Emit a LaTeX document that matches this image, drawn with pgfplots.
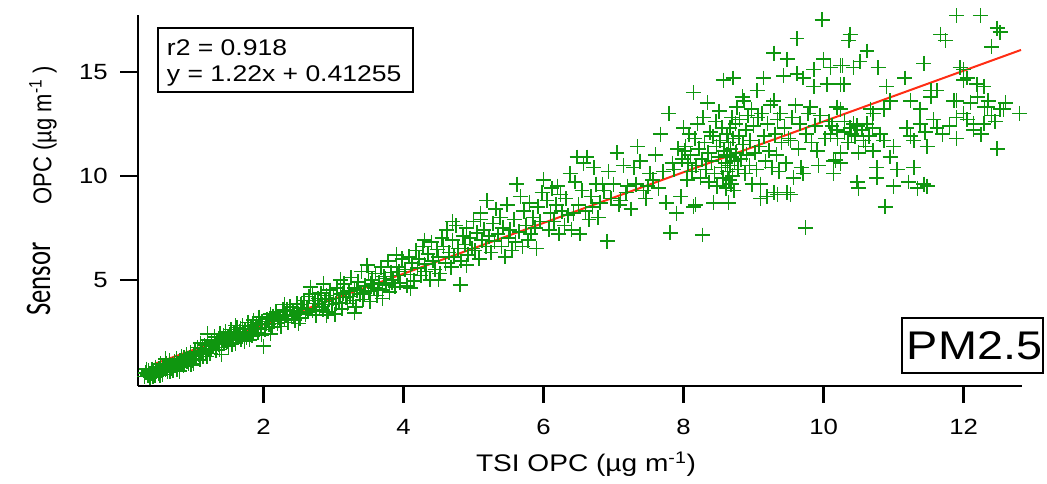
\documentclass[border=0pt]{standalone}
\usepackage{fontspec}
\setmainfont{Liberation Sans}[FakeStretch=1.17]
\newfontfamily\plainarial{Liberation Sans}
\newfontfamily\carlito{Carlito}
\usepackage{graphicx}
\usepackage{pgfplots}
\pgfplotsset{compat=1.18}
\usepackage{pgfplotstable}
\definecolor{mkgreen}{RGB}{15,150,15}
\definecolor{fitred}{RGB}{255,45,20}
\pgfplotstableread{
x y
0.30 0.35
0.32 0.52
0.35 0.41
0.36 0.62
0.38 0.30
0.40 0.48
0.41 0.70
0.43 0.55
0.45 0.38
0.46 0.80
0.48 0.62
0.50 0.50
0.51 0.75
0.53 0.95
0.55 0.62
0.56 0.45
0.58 0.80
0.60 0.70
0.61 0.98
0.63 0.58
0.65 0.85
0.66 1.10
0.68 0.72
0.70 0.92
0.71 0.65
0.73 1.05
0.75 0.85
0.76 1.20
0.78 0.95
0.80 0.78
0.81 1.10
0.83 1.30
0.85 1.00
0.86 0.85
0.88 1.18
0.90 1.40
0.91 1.05
0.93 0.95
0.95 1.25
0.96 1.50
0.98 1.12
1.00 1.35
1.00 0.98
0.33 0.70
0.37 0.45
0.42 0.35
0.47 0.60
0.52 0.40
0.57 0.68
0.62 0.80
0.67 0.60
0.72 0.88
0.77 0.70
0.82 0.95
0.87 1.25
0.92 1.15
0.97 0.90
0.60 1.20
0.80 0.60
1.02 1.55
1.04 1.20
1.06 1.75
1.08 1.40
1.10 1.95
1.12 1.60
1.14 1.30
1.16 1.85
1.18 1.55
1.20 2.10
1.22 1.70
1.24 1.45
1.26 2.00
1.28 1.80
1.30 2.25
1.32 1.60
1.34 2.05
1.36 1.90
1.38 2.40
1.40 1.75
1.42 2.15
1.44 1.95
1.46 2.50
1.48 2.05
1.50 1.80
1.52 2.30
1.54 2.60
1.56 2.10
1.58 2.40
1.60 1.95
1.62 2.70
1.64 2.25
1.66 2.50
1.68 2.10
1.70 2.80
1.72 2.35
1.74 2.60
1.76 2.20
1.78 2.95
1.80 2.50
1.82 2.75
1.84 2.30
1.86 3.05
1.88 2.60
1.90 2.85
1.92 2.45
1.94 3.20
1.96 2.70
1.98 3.00
2.00 1.80
1.03 1.45
1.09 1.15
1.13 1.70
1.19 1.30
1.25 1.65
1.31 1.95
1.37 1.65
1.43 2.30
1.49 2.20
1.55 1.90
1.61 2.20
1.67 2.65
1.73 2.05
1.79 2.40
1.85 2.80
1.91 2.65
1.97 2.35
1.20 2.40
1.40 1.40
1.60 2.80
1.80 2.10
2.02 2.60
2.05 3.10
2.08 2.85
2.10 3.35
2.12 2.70
2.15 3.00
2.18 3.45
2.20 2.90
2.22 3.20
2.25 2.75
2.28 3.55
2.30 3.10
2.32 3.30
2.35 2.95
2.38 3.70
2.40 3.25
2.42 3.50
2.45 3.05
2.48 3.85
2.50 3.40
2.52 3.15
2.55 3.65
2.58 4.00
2.60 3.35
2.62 3.60
2.65 4.20
2.67 4.64
2.70 3.50
2.72 3.85
2.75 3.30
2.78 4.10
2.80 3.70
2.82 4.35
2.85 3.55
2.86 4.80
2.88 3.95
2.90 4.25
2.92 3.45
2.95 4.50
2.98 3.80
3.00 4.10
3.02 3.35
3.05 4.60
3.08 3.90
3.10 4.30
3.12 3.60
3.15 4.80
3.18 4.15
3.20 3.85
3.22 4.45
3.25 5.10
3.28 4.00
3.30 4.60
3.32 3.70
3.35 4.90
3.38 4.30
3.40 5.40
3.42 4.05
3.45 4.70
3.48 5.70
3.50 4.45
3.52 3.95
3.55 5.00
3.58 4.60
3.60 5.30
3.62 4.25
3.65 4.85
3.68 5.60
3.70 4.50
3.72 5.15
3.75 4.75
3.78 5.90
3.80 4.40
3.82 5.35
3.85 5.00
3.88 4.65
3.90 5.60
3.92 5.20
3.95 4.85
3.98 6.00
2.04 2.90
2.14 3.25
2.24 3.05
2.34 3.55
2.44 3.30
2.54 3.80
2.64 3.45
2.74 4.00
2.84 3.80
2.94 4.05
3.04 3.85
3.14 4.35
3.24 4.20
3.34 4.50
3.44 4.35
3.54 4.80
3.64 4.55
3.74 5.05
3.84 4.85
3.94 5.40
2.10 2.40
2.30 3.80
2.50 2.90
2.70 4.30
2.90 3.30
3.10 5.00
3.30 3.40
3.50 5.40
3.70 4.10
3.90 6.20
4.10 4.60
4.30 6.90
4.50 5.00
4.70 7.80
4.90 5.70
5.10 7.90
4.02 5.50
4.05 4.70
4.08 6.10
4.10 5.25
4.12 5.80
4.15 4.95
4.18 6.40
4.20 5.55
4.22 6.00
4.25 5.20
4.28 6.60
4.30 5.75
4.32 5.40
4.35 6.25
4.38 5.00
4.40 6.80
4.42 5.90
4.45 5.50
4.48 6.45
4.50 6.10
4.52 5.30
4.55 7.00
4.57 6.60
4.60 5.80
4.62 7.40
4.65 6.30
4.68 5.60
4.70 6.90
4.72 6.10
4.75 7.60
4.78 6.50
4.81 4.75
4.82 5.90
4.85 7.10
4.88 6.70
4.90 7.50
4.92 6.20
4.95 7.00
4.98 6.50
5.00 7.80
5.02 6.40
5.05 7.25
5.08 6.00
5.10 8.20
5.12 6.90
5.15 7.40
5.18 6.60
5.19 8.80
5.22 7.10
5.25 6.30
5.28 7.70
5.30 6.85
5.32 8.40
5.35 7.20
5.38 8.00
5.40 6.60
5.42 7.50
5.45 6.10
5.48 8.60
5.50 7.00
5.52 7.40
5.55 6.40
5.58 7.90
5.60 6.80
5.62 9.60
5.65 7.30
5.67 9.00
5.70 6.60
5.72 8.30
5.75 7.60
5.78 6.90
5.80 8.70
5.82 7.20
5.85 8.00
5.88 7.50
5.90 6.50
5.92 8.50
5.95 7.80
5.98 9.20
6.00 9.80
6.05 8.80
6.08 7.40
6.10 8.20
6.12 9.40
6.15 7.80
6.18 8.60
6.20 9.50
6.22 7.20
6.24 9.10
6.26 8.30
6.30 7.60
6.32 8.90
6.35 8.10
6.38 10.10
6.40 7.40
6.43 8.20
6.45 9.70
6.48 10.90
6.50 8.60
6.52 7.20
6.55 9.30
6.57 10.60
6.60 8.30
6.62 10.90
6.65 7.90
6.68 9.00
6.70 8.50
6.72 10.40
6.75 9.60
6.78 8.00
6.81 8.70
6.84 9.60
6.86 9.30
6.91 6.85
6.93 10.20
6.96 8.90
7.00 9.60
7.05 11.10
7.08 8.60
7.10 8.80
7.14 10.50
7.18 9.20
7.20 9.50
7.25 8.40
7.29 10.40
7.32 9.60
7.34 11.40
7.38 10.70
7.43 9.30
7.46 8.90
7.49 9.50
7.52 10.10
7.56 9.80
7.60 11.00
7.64 9.40
7.67 12.00
7.71 10.20
7.75 8.70
7.79 13.00
7.81 7.25
7.84 10.60
7.86 10.30
7.90 8.20
7.92 11.30
7.96 9.00
7.98 10.80
8.00 12.30
8.02 11.20
8.03 11.40
8.05 9.80
8.06 10.60
8.08 12.00
8.10 11.00
8.12 10.20
8.14 14.00
8.14 8.50
8.16 11.80
8.17 8.60
8.18 10.50
8.20 12.50
8.22 11.30
8.24 9.90
8.26 10.80
8.27 7.15
8.28 12.80
8.30 11.60
8.32 10.30
8.34 13.50
8.35 11.10
8.36 9.70
8.38 12.10
8.40 10.70
8.42 11.90
8.43 8.70
8.44 10.10
8.46 12.60
8.47 11.40
8.48 9.50
8.50 10.90
8.51 13.10
8.52 11.70
8.54 10.40
8.55 12.30
8.56 9.90
8.57 14.60
8.58 11.20
8.60 10.60
8.61 9.40
8.62 12.00
8.62 11.00
8.63 10.20
8.64 8.70
8.64 11.60
8.65 9.80
8.66 12.30
8.66 10.50
8.67 11.30
8.68 9.60
8.68 10.90
8.69 12.80
8.70 10.00
8.71 14.70
8.71 11.80
8.72 9.30
8.73 10.70
8.74 12.50
8.75 11.10
8.76 13.30
8.78 10.30
8.79 11.90
8.80 12.70
8.82 10.80
8.84 13.80
8.85 11.50
8.86 13.60
8.88 10.10
8.89 12.20
8.90 11.00
8.92 12.90
8.94 10.50
8.95 11.70
8.97 13.20
8.98 9.60
9.00 12.40
9.02 11.10
9.04 10.30
9.05 14.10
9.06 12.80
9.08 11.40
9.10 9.60
9.10 8.90
9.12 13.00
9.14 14.70
9.15 11.90
9.17 10.70
9.19 9.00
9.20 12.50
9.22 11.20
9.24 13.40
9.26 10.40
9.29 13.60
9.29 15.90
9.29 9.20
9.31 12.00
9.33 11.00
9.34 12.70
9.34 9.10
9.36 10.20
9.38 13.00
9.40 11.60
9.43 14.80
9.44 12.30
9.46 10.60
9.48 15.60
9.48 9.20
9.50 11.80
9.53 11.70
9.53 9.10
9.55 12.80
9.57 9.90
9.60 13.40
9.62 14.90
9.62 16.60
9.64 11.30
9.66 12.50
9.68 10.40
9.71 10.10
9.71 14.70
9.74 7.50
9.75 12.00
9.78 13.00
9.81 13.30
9.83 11.60
9.86 14.30
9.86 15.10
9.88 12.40
9.91 11.20
9.93 10.50
9.95 12.90
9.98 17.50
10.00 15.60
10.02 11.80
10.05 14.40
10.08 12.60
10.10 15.20
10.10 12.00
10.14 10.70
10.14 10.10
10.17 10.75
10.19 13.30
10.19 12.20
10.24 15.30
10.24 14.40
10.24 13.20
10.24 11.10
10.24 10.60
10.27 15.30
10.29 14.40
10.36 16.50
10.38 16.80
10.38 12.30
10.43 15.20
10.43 12.50
10.48 12.40
10.48 9.70
10.50 9.40
10.52 15.50
10.57 11.70
10.62 16.00
10.62 12.50
10.67 13.20
10.71 13.00
10.71 11.20
10.76 10.40
10.76 9.90
10.78 15.20
10.81 12.00
10.86 13.20
10.86 11.70
10.88 8.50
10.90 14.30
10.95 13.60
10.95 10.90
11.00 11.40
11.00 9.50
11.05 10.30
11.16 14.70
11.19 12.30
11.21 9.70
11.24 13.60
11.24 11.90
11.29 11.70
11.29 10.40
11.34 9.40
11.38 13.20
11.38 12.50
11.43 15.40
11.43 9.60
11.48 11.40
11.48 9.50
11.53 14.10
11.53 13.80
11.57 12.70
11.62 12.30
11.62 14.10
11.67 16.80
11.74 16.50
11.86 13.60
11.90 17.70
11.90 13.60
11.90 12.80
11.90 11.80
11.95 15.20
12.00 15.10
12.00 14.60
12.05 14.70
12.10 13.50
12.14 12.50
12.14 12.20
12.19 14.40
12.24 17.70
12.29 14.30
12.29 12.50
12.30 13.30
12.34 13.30
12.40 16.20
12.48 17.10
12.48 11.30
12.52 16.90
12.52 13.20
12.57 13.20
12.80 13.00
12.00 13.00
12.20 13.80
12.40 12.90
12.05 12.70
12.35 13.60
12.45 12.60
12.25 12.00
12.60 13.50
10.12 12.40
10.20 11.80
10.30 12.10
10.35 11.60
10.45 11.90
10.55 12.20
10.60 11.40
10.30 12.60
10.40 12.00
10.50 11.10
10.65 11.90
10.70 12.30
11.45 12.10
11.70 12.00
11.80 12.40
}\ptsdata
\begin{document}
\begin{tikzpicture}
\useasboundingbox (0,0) rectangle (785.25pt,363pt);
\begin{axis}[
  at={(103.3pt,73.5pt)}, anchor=south west,
  scale only axis, width=663pt, height=278.25pt,
  xmin=0.205, xmax=12.83, ymin=-0.11, ymax=17.73,
  axis x line*=bottom, axis y line*=left,
  axis line style={line width=1.4pt, black, -},
  xtick={2,4,6,8,10,12}, ytick={5,10,15},
  yticklabels={,,},
  major tick length=0pt,
  minor tick num=0,
  tick label style={font=\fontsize{16.5}{19}\selectfont},
  xticklabel style={anchor=north, inner sep=0pt, yshift=-24.75pt},
  /pgf/number format/assume math mode=true,
  clip=false,
]
\addplot[only marks, mark=+, mark size=5.6pt, mark options={draw=mkgreen, line width=1.2pt}] table {\ptsdata};
\addplot[fitred, line width=1.5pt, no marks] coordinates {(0.41,0.91) (12.82,16.05)};
\end{axis}
% tick marks, drawn outward from the axis lines
\draw[line width=1.7pt, line cap=butt] (197.56pt,73.5pt) -- (197.56pt,60.5pt);
\draw[line width=1.7pt, line cap=butt] (302.59pt,73.5pt) -- (302.59pt,60.5pt);
\draw[line width=1.7pt, line cap=butt] (407.62pt,73.5pt) -- (407.62pt,60.5pt);
\draw[line width=1.7pt, line cap=butt] (512.65pt,73.5pt) -- (512.65pt,60.5pt);
\draw[line width=1.7pt, line cap=butt] (617.68pt,73.5pt) -- (617.68pt,60.5pt);
\draw[line width=1.7pt, line cap=butt] (722.71pt,73.5pt) -- (722.71pt,60.5pt);
\draw[line width=1.7pt, line cap=butt] (103.3pt,153.2pt) -- (90pt,153.2pt);
\draw[line width=1.7pt, line cap=butt] (103.3pt,231.18pt) -- (90pt,231.18pt);
\draw[line width=1.7pt, line cap=butt] (103.3pt,309.17pt) -- (90pt,309.17pt);
% y tick labels
\node[anchor=east, inner sep=0pt, font=\fontsize{16.5}{19}\selectfont] at (81pt,153.2pt) {5};
\node[anchor=east, inner sep=0pt, font=\fontsize{16.5}{19}\selectfont] at (81pt,231.18pt) {10};
\node[anchor=east, inner sep=0pt, font=\fontsize{16.5}{19}\selectfont] at (81pt,309.17pt) {15};
% equation box
\draw[line width=1.5pt] (118.5pt,294pt) rectangle (309.75pt,342pt);
\node[anchor=base west, inner sep=0pt, font=\fontsize{17}{20}\selectfont] at (125pt,321pt) {r2 = 0.918};
\node[anchor=base west, inner sep=0pt, font=\fontsize{17}{20}\selectfont] at (125pt,301.7pt) {y = 1.22x + 0.41255};
% PM2.5 box
\draw[line width=1.2pt, fill=white] (676.3pt,83.25pt) rectangle (782.25pt,124.5pt);
\node[anchor=base west, inner sep=0pt, font=\fontsize{30}{34}\selectfont] at (680pt,93pt) {PM2.5};
% x label
\node[anchor=base, inner sep=0pt, font=\fontsize{18}{21}\selectfont] at (439.5pt,9pt) {TSI OPC (µg m\textsuperscript{-1})};
% y label
\node[rotate=90, anchor=base, inner sep=0pt] at (37.5pt,153.75pt) {\scalebox{1}[1.35]{\carlito\fontsize{20}{24}\selectfont Sensor}};
\node[rotate=90, anchor=base, inner sep=0pt] at (38.5pt,261.75pt) {\scalebox{1}[1.17]{\plainarial\fontsize{16.5}{20}\selectfont OPC (µg m\textsuperscript{-1} )}};
\end{tikzpicture}
\end{document}
